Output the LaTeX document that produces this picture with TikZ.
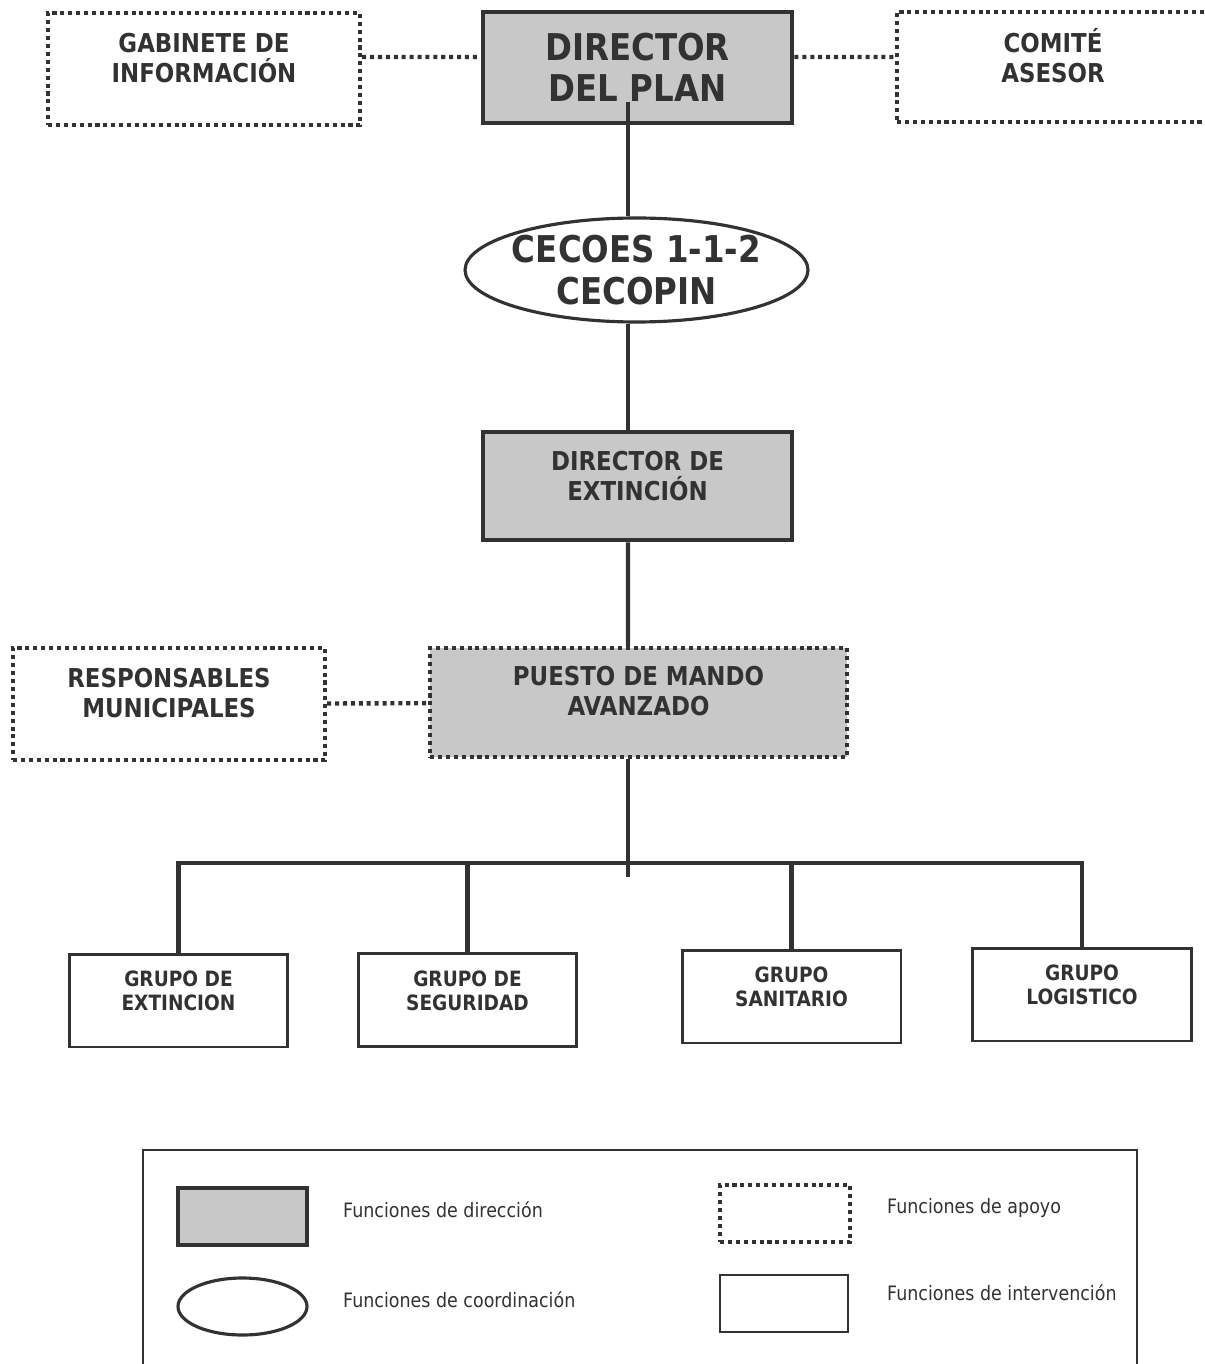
\documentclass[tikz,border=0pt]{standalone}
\usepackage{fontspec}
\setmainfont{DejaVu Sans}[FakeStretch=0.88]
\usetikzlibrary{shapes.geometric}

\definecolor{ink}{RGB}{50,50,50}
\definecolor{boxgray}{RGB}{200,200,200}

\tikzset{
  mando/.style={draw=ink, fill=boxgray, line width=2.8pt, align=center},
  apoyo/.style={draw=ink, line width=2.5pt, dash pattern=on 2.3pt off 2.2pt, align=center},
  grupo/.style={draw=ink, line width=1.7pt, align=center, minimum width=4.38cm, minimum height=1.86cm,
    font=\bfseries\fontsize{12}{13.5}\selectfont, text=ink, lift=11pt},
  coord/.style={draw=ink, ellipse, line width=1.8pt, inner sep=0pt},
  bigtext/.style={font=\bfseries\fontsize{21}{23.5}\selectfont, text=ink, align=center},
  midtext/.style={font=\bfseries\fontsize{14.8}{17}\selectfont, text=ink},
  legtext/.style={font=\fontsize{11.3}{13}\selectfont, text=ink, anchor=west},
  lift/.style={execute at end node={\rule[-#1]{0pt}{0pt}}},
  link/.style={draw=ink, line width=2.3pt},
  dotlink/.style={draw=ink, line width=2.5pt, dash pattern=on 2.3pt off 2.2pt}
}

\begin{document}
\begin{tikzpicture}[x=0.02cm, y=-0.02cm]
  \useasboundingbox (0,0) rectangle (1204,1364);
  \clip (0,0) rectangle (1204,1364);

  % Direccion
  \node[mando, bigtext, minimum width=6.18cm, minimum height=2.22cm] (dirplan) at (637.5,67.5) {DIRECTOR\\DEL PLAN};
  \node[apoyo, midtext, minimum width=6.24cm, minimum height=2.24cm, lift=13pt] (gabinete) at (204,69) {GABINETE DE\\INFORMACIÓN};
  \node[apoyo, midtext, minimum width=6.24cm, minimum height=2.2cm, lift=13pt] (comite) at (1053,67) {COMITÉ\\ASESOR};

  % Coordinacion
  \node[coord, minimum width=6.86cm, minimum height=2.08cm,
    label={[bigtext]center:CECOES 1-1-2\\CECOPIN}] (cecoes) at (636.5,270) {};

  \node[mando, midtext, minimum width=6.18cm, minimum height=2.16cm, lift=12pt] (dirext) at (637.5,486) {DIRECTOR DE\\EXTINCIÓN};
  \node[apoyo, midtext, fill=boxgray, minimum width=8.34cm, minimum height=2.18cm, lift=13pt] (pma) at (638.5,702.5) {PUESTO DE MANDO\\AVANZADO};
  \node[apoyo, midtext, minimum width=6.24cm, minimum height=2.24cm, lift=13pt] (resp) at (169,704) {RESPONSABLES\\MUNICIPALES};

  % Grupos
  \node[grupo] (g1) at (178.5,1000.5) {GRUPO DE\\EXTINCION};
  \node[grupo] (g2) at (467.5,1000) {GRUPO DE\\SEGURIDAD};
  \node[grupo] (g3) at (791.5,996.5) {GRUPO\\SANITARIO};
  \node[grupo] (g4) at (1082,994.5) {GRUPO\\LOGISTICO};

  % Lineas
  \draw[dotlink] ([yshift=0.24cm]gabinete.east) -- ([yshift=0.21cm]dirplan.west);
  \draw[dotlink] ([yshift=0.21cm]dirplan.east) -- ([yshift=0.2cm]comite.west);
  \draw[dotlink] (resp) -- (pma);
  \draw[link] ([xshift=-0.19cm,yshift=0.46cm]dirplan.south) -- ([xshift=-0.17cm]cecoes.north);
  \draw[link] ([xshift=-0.17cm]cecoes.south) -- ([xshift=-0.19cm]dirext.north);
  \draw[link] ([xshift=-0.19cm]dirext.south) -- ([xshift=-0.21cm]pma.north);
  \draw[link] ([xshift=-0.21cm]pma.south) -- ++(0,118);
  \coordinate (bus) at (628,863);
  \draw[link] (g1.north) |- (bus) -| (g4.north);
  \draw[link] (g2.north) -- (g2.north |- bus);
  \draw[link] (g3.north) -- (g3.north |- bus);

  % Leyenda
  \draw[draw=ink, line width=1.1pt] (143,1150) rectangle (1137,1380);
  \node[mando, minimum width=2.58cm, minimum height=1.14cm] (legdir) at (242.5,1216.5) {};
  \node[coord, minimum width=2.58cm, minimum height=1.14cm] (legcoord) at (242.5,1306.5) {};
  \node[apoyo, line width=2.2pt, minimum width=2.6cm, minimum height=1.14cm] (legapoyo) at (785,1213.5) {};
  \node[draw=ink, line width=1.6pt, minimum width=2.56cm, minimum height=1.14cm] (legint) at (784,1303.5) {};
  \node[legtext] (tdir) at (337,1210) {Funciones de dirección};
  \node[legtext] (tcoord) at (337,1300) {Funciones de coordinación};
  \node[legtext] (tapoyo) at (881,1208) {Funciones de apoyo};
  \node[legtext] (tint) at (881,1293) {Funciones de intervención};
\end{tikzpicture}
\end{document}
